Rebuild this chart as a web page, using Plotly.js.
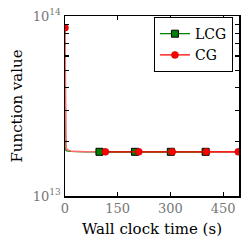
<!DOCTYPE html>
<html><head><meta charset="utf-8">
<script src="https://cdn.plot.ly/plotly-3.0.1.min.js"></script>
<style>html,body{margin:0;padding:0;background:#fff}#g{width:248px;height:249px}</style>
</head><body><div id="g"></div>
<script>
// LCG series (full path)
const lcgTime = [0, 0.5, 2, 5, 15, 60, 100, 200, 300, 400, 495];
const lcgValue = [8.6e13, 2.5e13, 1.80e13, 1.78e13, 1.77e13, 1.76e13, 1.76e13, 1.76e13, 1.76e13, 1.76e13, 1.76e13];
// LCG marker points
const lcgMarkTime = [98, 199, 301, 400];
const lcgMarkValue = [1.76e13, 1.76e13, 1.76e13, 1.76e13];
// CG series (full path)
const cgTime = [0, 1, 3, 8, 20, 60, 115, 210, 305, 402, 495];
const cgValue = [8.6e13, 2.4e13, 1.85e13, 1.80e13, 1.77e13, 1.76e13, 1.76e13, 1.76e13, 1.76e13, 1.76e13, 1.76e13];
// CG marker points
const cgMarkTime = [115, 210, 305, 402, 493];
const cgMarkValue = [1.76e13, 1.76e13, 1.76e13, 1.76e13, 1.76e13];
const cgStartTime = [0];
const cgStartValue = [8.6e13];
// axis ticks
const xTicks = [0, 150, 300, 450];
const yTickVals = [1e13, 2e13, 3e13, 4e13, 5e13, 6e13, 7e13, 8e13, 9e13, 1e14];
const yTickText = ['10<sup>13</sup>', '', '', '', '', '', '', '', '', '10<sup>14</sup>'];

const font = 'DejaVu Serif, serif';
const traces = [
  {x: lcgTime, y: lcgValue, mode: 'lines', line: {color: '#008000', width: 1.2}, showlegend: false, hoverinfo: 'skip', legendgroup: 'lcg'},
  {x: cgTime, y: cgValue, mode: 'lines', line: {color: '#ff6b6b', width: 1.5}, showlegend: false, hoverinfo: 'skip', legendgroup: 'cg'},
  {x: lcgMarkTime, y: lcgMarkValue, mode: 'lines+markers', name: 'LCG', legendgroup: 'lcg',
   line: {color: '#008000', width: 1.2}, marker: {symbol: 'square', size: 7, color: '#008000', line: {color: '#000', width: 1}}},
  {x: cgMarkTime, y: cgMarkValue, mode: 'lines+markers', name: 'CG', legendgroup: 'cg',
   line: {color: '#ff0000', width: 1.2}, marker: {symbol: 'circle', size: 7, color: '#ff0000', line: {color: '#b00000', width: 0.5}}},
  {x: cgStartTime, y: cgStartValue, mode: 'markers', showlegend: false, legendgroup: 'cg', cliponaxis: true,
   marker: {symbol: 'circle', size: 7, color: '#ff0000', line: {color: '#b00000', width: 0.5}}}
];
const layout = {
  width: 248, height: 249,
  margin: {l: 65, r: 9, t: 16, b: 53},
  paper_bgcolor: '#fff', plot_bgcolor: '#fff',
  font: {family: font, size: 12, color: '#000'},
  showlegend: true,
  legend: {x: 0.51, y: 0.995, xanchor: 'left', yanchor: 'top', bordercolor: '#000', borderwidth: 1.2, bgcolor: '#fff',
    font: {family: font, size: 14, color: '#000'}, tracegroupgap: 0, itemwidth: 30},
  xaxis: {range: [0, 495], tickvals: xTicks, ticktext: xTicks.map(String), ticks: 'inside', ticklen: 4, tickwidth: 1.2, tickcolor: '#000',
    showline: true, linecolor: '#000', linewidth: 1.5, mirror: 'allticks', showgrid: false, zeroline: false,
    tickfont: {family: font, size: 13, color: '#777'},
    title: {text: 'Wall clock time (s)', font: {family: font, size: 15, color: '#000'}, standoff: 8}},
  yaxis: {type: 'log', range: [13, 14], tickvals: yTickVals, ticktext: yTickText, ticks: 'inside', ticklen: 4, tickwidth: 1.2, tickcolor: '#000',
    showline: true, linecolor: '#000', linewidth: 1.5, mirror: 'allticks', showgrid: false, zeroline: false,
    tickfont: {family: font, size: 13, color: '#777'},
    title: {text: 'Function value', font: {family: font, size: 15, color: '#000'}, standoff: 6}}
};
Plotly.newPlot('g', traces, layout, {displayModeBar: false, staticPlot: true});
</script></body></html>
